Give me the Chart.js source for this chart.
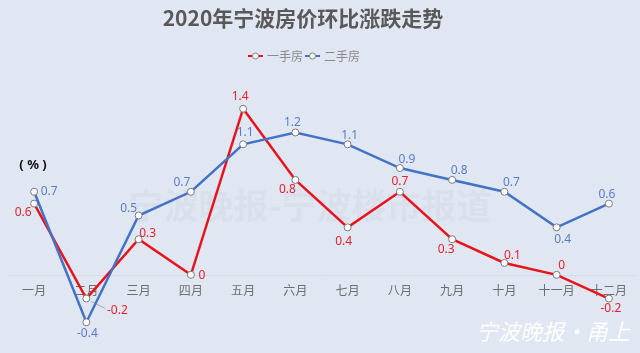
<!DOCTYPE html>
<html>
<head>
<meta charset="utf-8">
<script src="https://cdn.jsdelivr.net/npm/chart.js@4"></script>
<style>
html,body{margin:0;padding:0;background:#e1e7f2;}
#wrap{width:640px;height:353px;position:relative;}
canvas{display:block;}
</style>
</head>
<body>
<div id="wrap"><canvas id="c" width="640" height="353"></canvas></div>
<script>
// ---- data ----
const months = ['一月','二月','三月','四月','五月','六月','七月','八月','九月','十月','十一月','十二月'];
const newHomes = [0.6, -0.2, 0.3, 0, 1.4, 0.8, 0.4, 0.7, 0.3, 0.1, 0, -0.2];
const resaleHomes = [0.7, -0.4, 0.5, 0.7, 1.1, 1.2, 1.1, 0.9, 0.8, 0.7, 0.4, 0.6];
const seriesNames = ['一手房', '二手房'];
const titleText = '2020年宁波房价环比涨跌走势';
const unitText = '( % )';

// label offsets (style only)
const newOffsets = [[-11,9],[31,12],[9,-6],[11,1],[-3,-12],[-8,10],[-4,14],[0,-10],[-6,10],[8,-7],[5,-9],[2,10]];
const resaleOffsets = [[15,0],[1,11],[-10,-7],[-9,-9],[2,-12],[-3,-10],[2,-9],[7,-8],[7,-9],[7,-9],[6,12],[-2,-9]];

const RED = '#e8141b', BLUE = '#4472c4';
const RED_TXT = '#e5202c', BLUE_TXT = '#5b7cc2';
const CJK = '"Noto Sans CJK SC","Noto Sans",sans-serif';

const decor = {
  id: 'decor',
  beforeDatasetsDraw(chart) {
    const ctx = chart.ctx, a = chart.chartArea, y = chart.scales.y, x = chart.scales.x;
    const y0 = y.getPixelForValue(0);
    ctx.save();
    // watermark
    ctx.fillStyle = 'rgba(60,70,90,0.045)';
    ctx.font = 'bold 35px ' + CJK;
    ctx.textAlign = 'center'; ctx.textBaseline = 'middle';
    ctx.fillText('宁波晚报-宁波楼市报道', 310, 206);
    // zero line
    ctx.strokeStyle = '#d6dce7'; ctx.lineWidth = 1;
    ctx.beginPath(); ctx.moveTo(a.left, Math.round(y0)+0.5); ctx.lineTo(a.right, Math.round(y0)+0.5); ctx.stroke();
    // category labels
    ctx.fillStyle = '#6e6e6e';
    ctx.font = '12px ' + CJK;
    months.forEach((m, i) => ctx.fillText(m, x.getPixelForValue(i), y0 + 16));
    // leader line for 二月 一手房
    const p = chart.getDatasetMeta(0).data[1];
    ctx.strokeStyle = '#a6a6a6'; ctx.lineWidth = 1;
    ctx.beginPath(); ctx.moveTo(p.x + 5, p.y + 3); ctx.lineTo(p.x + 19, p.y + 10); ctx.stroke();
    ctx.restore();
  },
  afterDatasetsDraw(chart) {
    const ctx = chart.ctx;
    ctx.save();
    ctx.font = '12px "Noto Sans","Open Sans",sans-serif';
    ctx.textAlign = 'center'; ctx.textBaseline = 'middle';
    const sets = [[newHomes, newOffsets, RED_TXT], [resaleHomes, resaleOffsets, BLUE_TXT]];
    sets.forEach((s, di) => {
      const meta = chart.getDatasetMeta(di);
      ctx.fillStyle = s[2];
      meta.data.forEach((pt, i) => {
        ctx.fillText(String(s[0][i]), pt.x + s[1][i][0], pt.y + s[1][i][1]);
      });
    });
    // title
    ctx.fillStyle = '#595959';
    ctx.font = 'bold 21px ' + CJK;
    ctx.fillText(titleText, 303, 18);
    // legend
    const items = [[seriesNames[0], RED, 248], [seriesNames[1], BLUE, 305]];
    items.forEach(it => {
      ctx.strokeStyle = it[1]; ctx.lineWidth = 2;
      ctx.beginPath(); ctx.moveTo(it[2], 56); ctx.lineTo(it[2] + 15, 56); ctx.stroke();
      ctx.beginPath(); ctx.arc(it[2] + 7.5, 56, 3, 0, Math.PI * 2);
      ctx.fillStyle = '#fff'; ctx.fill();
      ctx.strokeStyle = '#7f7f7f'; ctx.lineWidth = 1; ctx.stroke();
      ctx.fillStyle = '#8a8a8a'; ctx.font = '12px ' + CJK; ctx.textAlign = 'left';
      ctx.fillText(it[0], it[2] + 19, 56);
    });
    // unit
    ctx.textAlign = 'center';
    ctx.fillStyle = '#111'; ctx.font = 'bold 13px "Noto Sans",sans-serif';
    ctx.fillText(unitText, 33, 165);
    // bottom-right mark
    ctx.fillStyle = 'rgba(255,255,255,0.95)';
    ctx.font = 'italic 22px ' + CJK;
    ctx.fillText('宁波晚报·甬上', 553, 332);
    ctx.restore();
  }
};

new Chart(document.getElementById('c'), {
  type: 'line',
  data: {
    labels: months,
    datasets: [
      { label: seriesNames[0], data: newHomes, borderColor: RED, borderWidth: 2.5, order: 1,
        pointRadius: 3.5, pointBackgroundColor: '#fff', pointBorderColor: '#7a7a7a', pointBorderWidth: 1, tension: 0 },
      { label: seriesNames[1], data: resaleHomes, borderColor: BLUE, borderWidth: 2.5, order: 0,
        pointRadius: 3.5, pointBackgroundColor: '#fff', pointBorderColor: '#7a7a7a', pointBorderWidth: 1, tension: 0 }
    ]
  },
  options: {
    responsive: false,
    animation: false,
    layout: { padding: { top: 85, bottom: 7, left: 8, right: 3 } },
    plugins: { legend: { display: false }, title: { display: false }, tooltip: { enabled: false } },
    scales: {
      x: { type: 'category', offset: true, display: false },
      y: { display: false, min: -0.6, max: 1.6 }
    }
  },
  plugins: [decor]
});
</script>
</body>
</html>
